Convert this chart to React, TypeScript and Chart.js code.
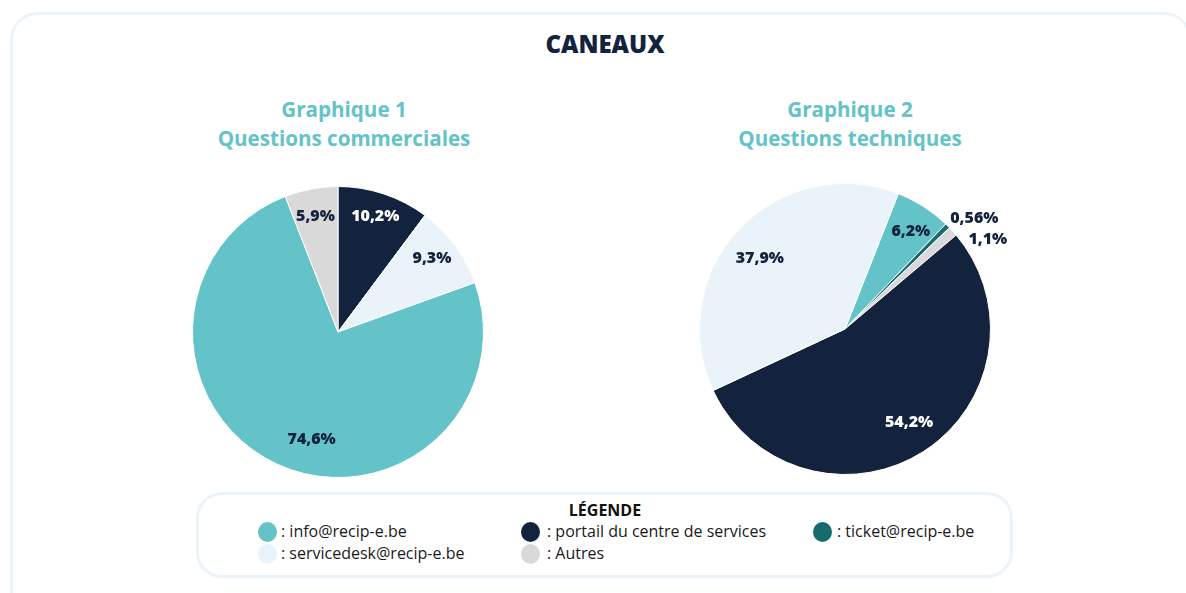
import React, { useEffect, useRef } from 'react';
import { Chart, registerables } from 'chart.js';

Chart.register(...registerables);

// ---------- data ----------
const mainTitle = 'CANEAUX';
const legendTitle = 'LÉGENDE';

const channels = [
  'info@recip-e.be',
  'portail du centre de services',
  'ticket@recip-e.be',
  'servicedesk@recip-e.be',
  'Autres',
];
const channelColors = ['#63C3C8', '#13223D', '#166B6B', '#E9F3F9', '#D9D9D9'];

const chart1Title = ['Graphique 1', 'Questions commerciales'];
const chart1Categories = [
  'portail du centre de services',
  'servicedesk@recip-e.be',
  'info@recip-e.be',
  'Autres',
];
const chart1Values = [10.2, 9.3, 74.6, 5.9];

const chart2Title = ['Graphique 2', 'Questions techniques'];
const chart2Categories = [
  'info@recip-e.be',
  'ticket@recip-e.be',
  'Autres',
  'portail du centre de services',
  'servicedesk@recip-e.be',
];
const chart2Values = [6.2, 0.56, 1.1, 54.2, 37.9];

// ---------- styling ----------
const NAVY = '#13223D';
const TEAL = '#63C3C8';
const colorOf = (cat: string) => channelColors[channels.indexOf(cat)];
const fmt = (v: number) => String(v).replace('.', ',') + '%';

// label placement (fraction of radius, angular shift in degrees)
const chart1Place = [
  { frac: 0.835, shift: -0.5 },
  { frac: 0.82, shift: -1.5 },
  { frac: 0.76, shift: -10.7 },
  { frac: 0.81, shift: -0.4 },
];
const chart2Place = [
  { frac: 0.81, shift: 1.3 },
  { frac: 1.17, shift: 4.6 },
  { frac: 1.16, shift: 10 },
  { frac: 0.78, shift: -1.8 },
  { frac: 0.76, shift: -3.6 },
];

const sliceLabels = {
  id: 'sliceLabels',
  afterDatasetsDraw(chart: any, _args: any, opts: any) {
    const ctx = chart.ctx;
    const meta = chart.getDatasetMeta(0);
    const values = chart.data.datasets[0].data as number[];
    const colors = chart.data.datasets[0].backgroundColor as string[];
    meta.data.forEach((arc: any, i: number) => {
      const p = arc.getProps(['x', 'y', 'startAngle', 'endAngle', 'outerRadius'], true);
      const place = opts.place[i];
      const mid = (p.startAngle + p.endAngle) / 2 + (place.shift * Math.PI) / 180;
      const r = p.outerRadius * place.frac;
      const x = p.x + Math.cos(mid) * r;
      const y = p.y + Math.sin(mid) * r;
      ctx.save();
      ctx.font = '800 16px "Open Sans"';
      ctx.textAlign = 'center';
      ctx.textBaseline = 'middle';
      ctx.fillStyle = colors[i] === NAVY && place.frac < 1 ? '#FFFFFF' : NAVY;
      ctx.fillText(fmt(values[i]), x, y);
      ctx.restore();
    });
  },
};

function PieChart(props: {
  categories: string[];
  values: number[];
  rotation: number;
  place: { frac: number; shift: number }[];
  left: number;
  top: number;
}) {
  const ref = useRef<HTMLCanvasElement>(null);
  useEffect(() => {
    const canvas = ref.current!;
    const chart = new Chart(canvas, {
      type: 'pie',
      data: {
        labels: props.categories,
        datasets: [
          {
            data: props.values,
            backgroundColor: props.categories.map(colorOf),
            borderColor: '#FFFFFF',
            borderWidth: 1,
          },
        ],
      },
      options: {
        animation: false,
        responsive: false,
        devicePixelRatio: 1,
        rotation: props.rotation,
        layout: { padding: { top: 14, bottom: 14, left: 0, right: 0 } },
        plugins: {
          legend: { display: false },
          tooltip: { enabled: false },
          sliceLabels: { place: props.place },
        } as any,
      },
      plugins: [sliceLabels],
    });
    return () => chart.destroy();
  }, []);
  return (
    <canvas
      ref={ref}
      width={400}
      height={320}
      style={{ position: 'absolute', left: props.left, top: props.top, width: 400, height: 320 }}
    />
  );
}

const legendItems = [
  { idx: 0, x: 267, y: 532, tx: 281, ty: 520 },
  { idx: 1, x: 530, y: 532, tx: 547, ty: 520 },
  { idx: 2, x: 822, y: 532, tx: 837, ty: 520 },
  { idx: 3, x: 267, y: 554, tx: 281, ty: 542 },
  { idx: 4, x: 530, y: 554, tx: 547, ty: 542 },
];

export default function App() {
  const font = '"Open Sans", "DejaVu Sans", sans-serif';
  return (
    <div
      style={{
        position: 'absolute',
        left: 0,
        top: 0,
        width: 1186,
        height: 593,
        overflow: 'hidden',
        background: '#FFFFFF',
        fontFamily: font,
      }}
    >
      <div
        style={{
          position: 'absolute',
          left: 10,
          top: 12,
          width: 1182,
          height: 620,
          border: '3px solid #EAF4FA',
          borderRadius: 28,
          boxSizing: 'border-box',
        }}
      />
      <div
        style={{
          position: 'absolute',
          left: 305,
          width: 600,
          top: 32,
          lineHeight: '24px',
          fontSize: 24,
          fontWeight: 800,
          color: NAVY,
          textAlign: 'center',
        }}
      >
        {mainTitle}
      </div>

      {[
        { t: chart1Title, cx: 344 },
        { t: chart2Title, cx: 850 },
      ].map((s, k) => (
        <div
          key={k}
          style={{
            position: 'absolute',
            left: s.cx - 200,
            width: 400,
            top: 95,
            lineHeight: '29px',
            fontSize: 20.6,
            fontWeight: 700,
            color: TEAL,
            textAlign: 'center',
          }}
        >
          {s.t[0]}
          <br />
          {s.t[1]}
        </div>
      ))}

      <PieChart
        categories={chart1Categories}
        values={chart1Values}
        rotation={0}
        place={chart1Place}
        left={137.5}
        top={172}
      />
      <PieChart
        categories={chart2Categories}
        values={chart2Values}
        rotation={21.5}
        place={chart2Place}
        left={645}
        top={169}
      />

      <div
        style={{
          position: 'absolute',
          left: 196,
          top: 492,
          width: 817,
          height: 86,
          border: '3px solid #EAF4FA',
          borderRadius: 26,
          boxSizing: 'border-box',
        }}
      />
      <div
        style={{
          position: 'absolute',
          left: 405,
          width: 400,
          top: 502,
          lineHeight: '16px',
          fontSize: 16,
          fontWeight: 700,
          color: '#111111',
          textAlign: 'center',
        }}
      >
        {legendTitle}
      </div>
      {legendItems.map((it) => (
        <React.Fragment key={it.idx}>
          <div
            style={{
              position: 'absolute',
              left: it.x - 9.5,
              top: it.y - 10,
              width: 19,
              height: 20,
              borderRadius: '50%',
              background: channelColors[it.idx],
            }}
          />
          <div
            style={{
              position: 'absolute',
              left: it.tx,
              top: it.ty,
              lineHeight: '22px',
              fontSize: 16,
              color: '#1A1A1A',
              whiteSpace: 'nowrap',
            }}
          >
            : {channels[it.idx]}
          </div>
        </React.Fragment>
      ))}
    </div>
  );
}
